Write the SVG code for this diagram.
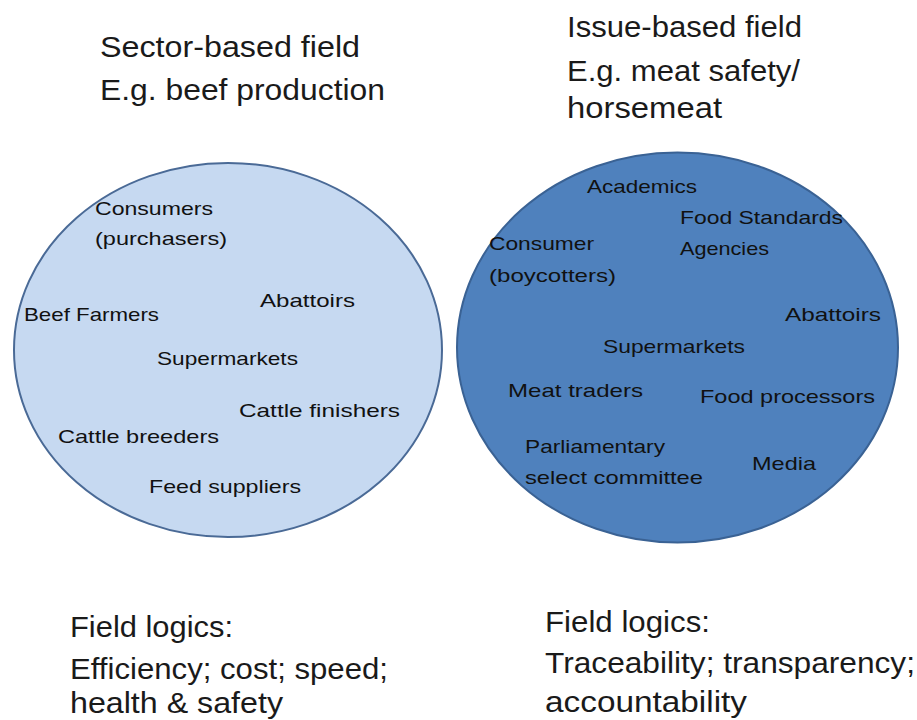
<svg xmlns="http://www.w3.org/2000/svg" width="917" height="720" viewBox="0 0 917 720">
  <style>
    .title { font-family: "Liberation Sans", Arial, sans-serif; font-size: 29px; fill: #1a1a1a; }
    .label { font-family: "Liberation Sans", Arial, sans-serif; font-size: 19px; fill: #111; }
    .sector { fill: #C6D9F1; stroke: #4A6A96; stroke-width: 2; }
    .issue { fill: #4F81BD; stroke: #3A6294; stroke-width: 2; }
  </style>

  <!-- Headings -->
  <g id="sector-heading">
    <text class="title" x="100" y="57" textLength="260" lengthAdjust="spacingAndGlyphs">Sector-based field</text>
    <text class="title" x="100" y="100" textLength="285" lengthAdjust="spacingAndGlyphs">E.g. beef production</text>
  </g>
  <g id="issue-heading">
    <text class="title" x="567" y="37" textLength="235" lengthAdjust="spacingAndGlyphs">Issue-based field</text>
    <text class="title" x="567" y="81" textLength="233" lengthAdjust="spacingAndGlyphs">E.g. meat safety/</text>
    <text class="title" x="567" y="118" textLength="155" lengthAdjust="spacingAndGlyphs">horsemeat</text>
  </g>

  <!-- Sector-based field -->
  <g id="sector-field">
    <ellipse class="sector" cx="228" cy="350" rx="214" ry="187"/>
    <text class="label" x="95" y="215" textLength="118" lengthAdjust="spacingAndGlyphs">Consumers</text>
    <text class="label" x="95" y="245" textLength="132" lengthAdjust="spacingAndGlyphs">(purchasers)</text>
    <text class="label" x="260" y="307" textLength="95" lengthAdjust="spacingAndGlyphs">Abattoirs</text>
    <text class="label" x="24" y="321" textLength="135" lengthAdjust="spacingAndGlyphs">Beef Farmers</text>
    <text class="label" x="157" y="365" textLength="141" lengthAdjust="spacingAndGlyphs">Supermarkets</text>
    <text class="label" x="239" y="417" textLength="161" lengthAdjust="spacingAndGlyphs">Cattle finishers</text>
    <text class="label" x="58" y="443" textLength="161" lengthAdjust="spacingAndGlyphs">Cattle breeders</text>
    <text class="label" x="149" y="493" textLength="152" lengthAdjust="spacingAndGlyphs">Feed suppliers</text>
  </g>

  <!-- Issue-based field -->
  <g id="issue-field">
    <ellipse class="issue" cx="677.5" cy="347.5" rx="220.5" ry="195"/>
    <text class="label" x="587" y="193" textLength="110" lengthAdjust="spacingAndGlyphs">Academics</text>
    <text class="label" x="680" y="224" textLength="163" lengthAdjust="spacingAndGlyphs">Food Standards</text>
    <text class="label" x="680" y="255" textLength="89" lengthAdjust="spacingAndGlyphs">Agencies</text>
    <text class="label" x="489" y="250" textLength="105" lengthAdjust="spacingAndGlyphs">Consumer</text>
    <text class="label" x="489" y="282" textLength="127" lengthAdjust="spacingAndGlyphs">(boycotters)</text>
    <text class="label" x="785" y="321" textLength="96" lengthAdjust="spacingAndGlyphs">Abattoirs</text>
    <text class="label" x="603" y="353" textLength="142" lengthAdjust="spacingAndGlyphs">Supermarkets</text>
    <text class="label" x="508" y="397" textLength="135" lengthAdjust="spacingAndGlyphs">Meat traders</text>
    <text class="label" x="700" y="403" textLength="175" lengthAdjust="spacingAndGlyphs">Food processors</text>
    <text class="label" x="525" y="453" textLength="140" lengthAdjust="spacingAndGlyphs">Parliamentary</text>
    <text class="label" x="525" y="484" textLength="178" lengthAdjust="spacingAndGlyphs">select committee</text>
    <text class="label" x="752" y="470" textLength="64" lengthAdjust="spacingAndGlyphs">Media</text>
  </g>

  <!-- Field logics -->
  <g id="sector-logics">
    <text class="title" x="70" y="637" textLength="163" lengthAdjust="spacingAndGlyphs">Field logics:</text>
    <text class="title" x="70" y="679" textLength="318" lengthAdjust="spacingAndGlyphs">Efficiency; cost; speed;</text>
    <text class="title" x="70" y="713" textLength="213" lengthAdjust="spacingAndGlyphs">health &amp; safety</text>
  </g>
  <g id="issue-logics">
    <text class="title" x="545" y="632" textLength="165" lengthAdjust="spacingAndGlyphs">Field logics:</text>
    <text class="title" x="545" y="673" textLength="370" lengthAdjust="spacingAndGlyphs">Traceability; transparency;</text>
    <text class="title" x="545" y="712" textLength="202" lengthAdjust="spacingAndGlyphs">accountability</text>
  </g>

  <!-- no connectors in this figure -->
  <g id="connectors"/>
</svg>
